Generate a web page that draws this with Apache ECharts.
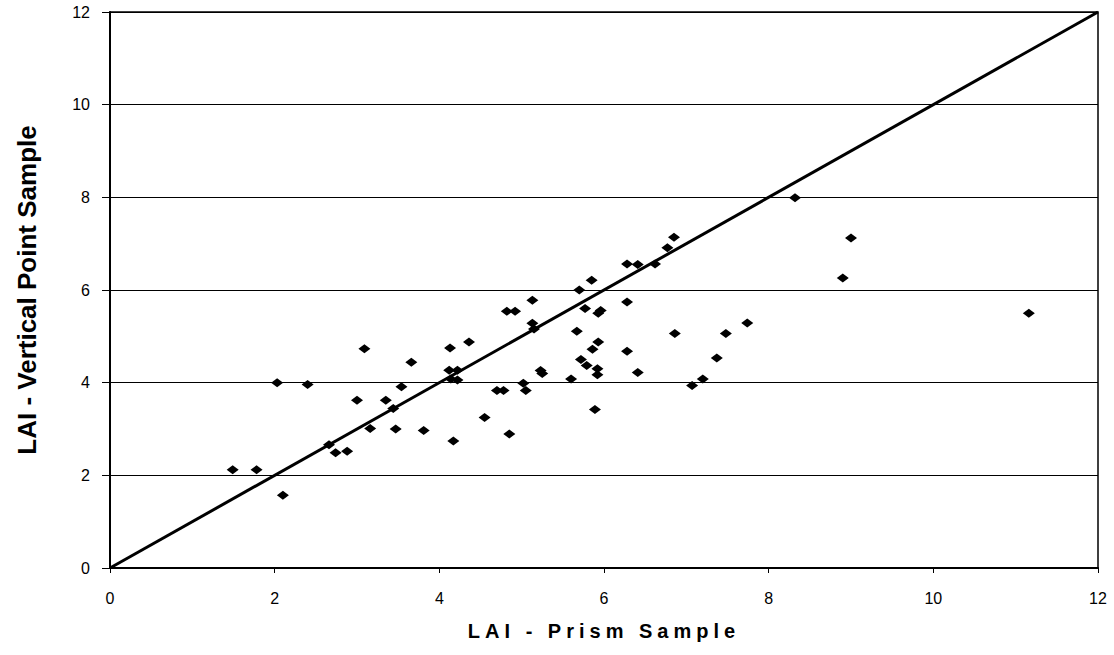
<!DOCTYPE html>
<html>
<head>
<meta charset="utf-8">
<script src="https://cdn.jsdelivr.net/npm/echarts@6/dist/echarts.min.js"></script>
<style>
html,body{margin:0;padding:0;background:#fff;}
#chart{width:1114px;height:655px;}
</style>
</head>
<body>
<div id="chart"></div>
<script>
// LAI - Prism Sample (x) vs LAI - Vertical Point Sample (y)
const prismLAI = [1.49,1.78,2.03,2.10,2.40,2.66,2.74,2.88,3.00,3.09,3.16,3.35,3.44,3.47,3.54,3.66,3.81,4.13,4.17,4.12,4.22,4.14,4.22,4.36,4.55,4.70,4.78,4.82,4.92,4.85,5.02,5.05,5.13,5.13,5.15,5.23,5.25,5.60,5.67,5.70,5.72,5.77,5.79,5.85,5.86,5.89,5.92,5.92,5.93,5.93,5.96,6.28,6.28,6.28,6.41,6.41,6.62,6.77,6.85,6.86,7.07,7.20,7.37,7.48,7.74,8.32,8.90,9.00,11.16];
const verticalLAI = [2.12,2.12,4.00,1.57,3.96,2.66,2.49,2.52,3.62,4.73,3.01,3.62,3.44,3.00,3.91,4.44,2.97,4.75,2.74,4.27,4.27,4.08,4.06,4.88,3.25,3.83,3.83,5.54,5.54,2.89,3.99,3.83,5.78,5.28,5.16,4.26,4.20,4.08,5.11,6.00,4.50,5.60,4.37,6.21,4.72,3.42,4.30,4.17,4.88,5.50,5.56,6.56,5.74,4.68,6.55,4.22,6.56,6.91,7.14,5.06,3.94,4.08,4.53,5.06,5.29,7.99,6.26,7.12,5.50];
const oneToOneX = [0, 12];
const oneToOneY = [0, 12];
const xTitle = 'LAI - Prism Sample';
const yTitle = 'LAI - Vertical Point Sample';

const points = prismLAI.map((x, i) => [x, verticalLAI[i]]);
const linePts = oneToOneX.map((x, i) => [x, oneToOneY[i]]);

const chart = echarts.init(document.getElementById('chart'), null, {renderer: 'svg'});
const font = 'Arial, "Liberation Sans", sans-serif';
chart.setOption({
  animation: false,
  backgroundColor: '#ffffff',
  grid: {left: 110, right: 16, top: 12, bottom: 87, show: true, borderColor: '#000', borderWidth: 1.5, containLabel: false},
  xAxis: {
    type: 'value', min: 0, max: 12, interval: 2,
    name: xTitle, nameLocation: 'middle', nameGap: 53,
    nameTextStyle: {fontFamily: font, fontWeight: 'bold', fontSize: 20, color: '#000'},
    axisLine: {show: true, onZero: false, lineStyle: {color: '#000', width: 2}},
    axisTick: {show: true, inside: false, length: 5, lineStyle: {color: '#000'}},
    axisLabel: {fontFamily: font, fontSize: 16, color: '#000', margin: 22},
    splitLine: {show: false}
  },
  yAxis: {
    type: 'value', min: 0, max: 12, interval: 2,
    name: yTitle, nameLocation: 'middle', nameGap: 70,
    nameTextStyle: {fontFamily: font, fontWeight: 'bold', fontSize: 26, color: '#000'},
    axisLine: {show: true, onZero: false, lineStyle: {color: '#000', width: 2}},
    axisTick: {show: true, inside: false, length: 8, lineStyle: {color: '#000'}},
    axisLabel: {fontFamily: font, fontSize: 16, color: '#000', margin: 20},
    splitLine: {show: true, lineStyle: {color: '#000', width: 1}}
  },
  series: [
    {
      type: 'line', data: linePts, symbol: 'none', z: 2,
      lineStyle: {color: '#000', width: 3}
    },
    {
      type: 'scatter', data: points, symbol: 'diamond', symbolSize: [12, 9], z: 3,
      itemStyle: {color: '#000', opacity: 1}
    }
  ]
});

// widen letter spacing of the x-axis title as in the reference
function spaceTitle() {
  document.querySelectorAll('#chart text').forEach(t => {
    if (t.textContent === xTitle) t.style.letterSpacing = '5px';
  });
}
spaceTitle();
chart.on('finished', spaceTitle);
</script>
</body>
</html>
